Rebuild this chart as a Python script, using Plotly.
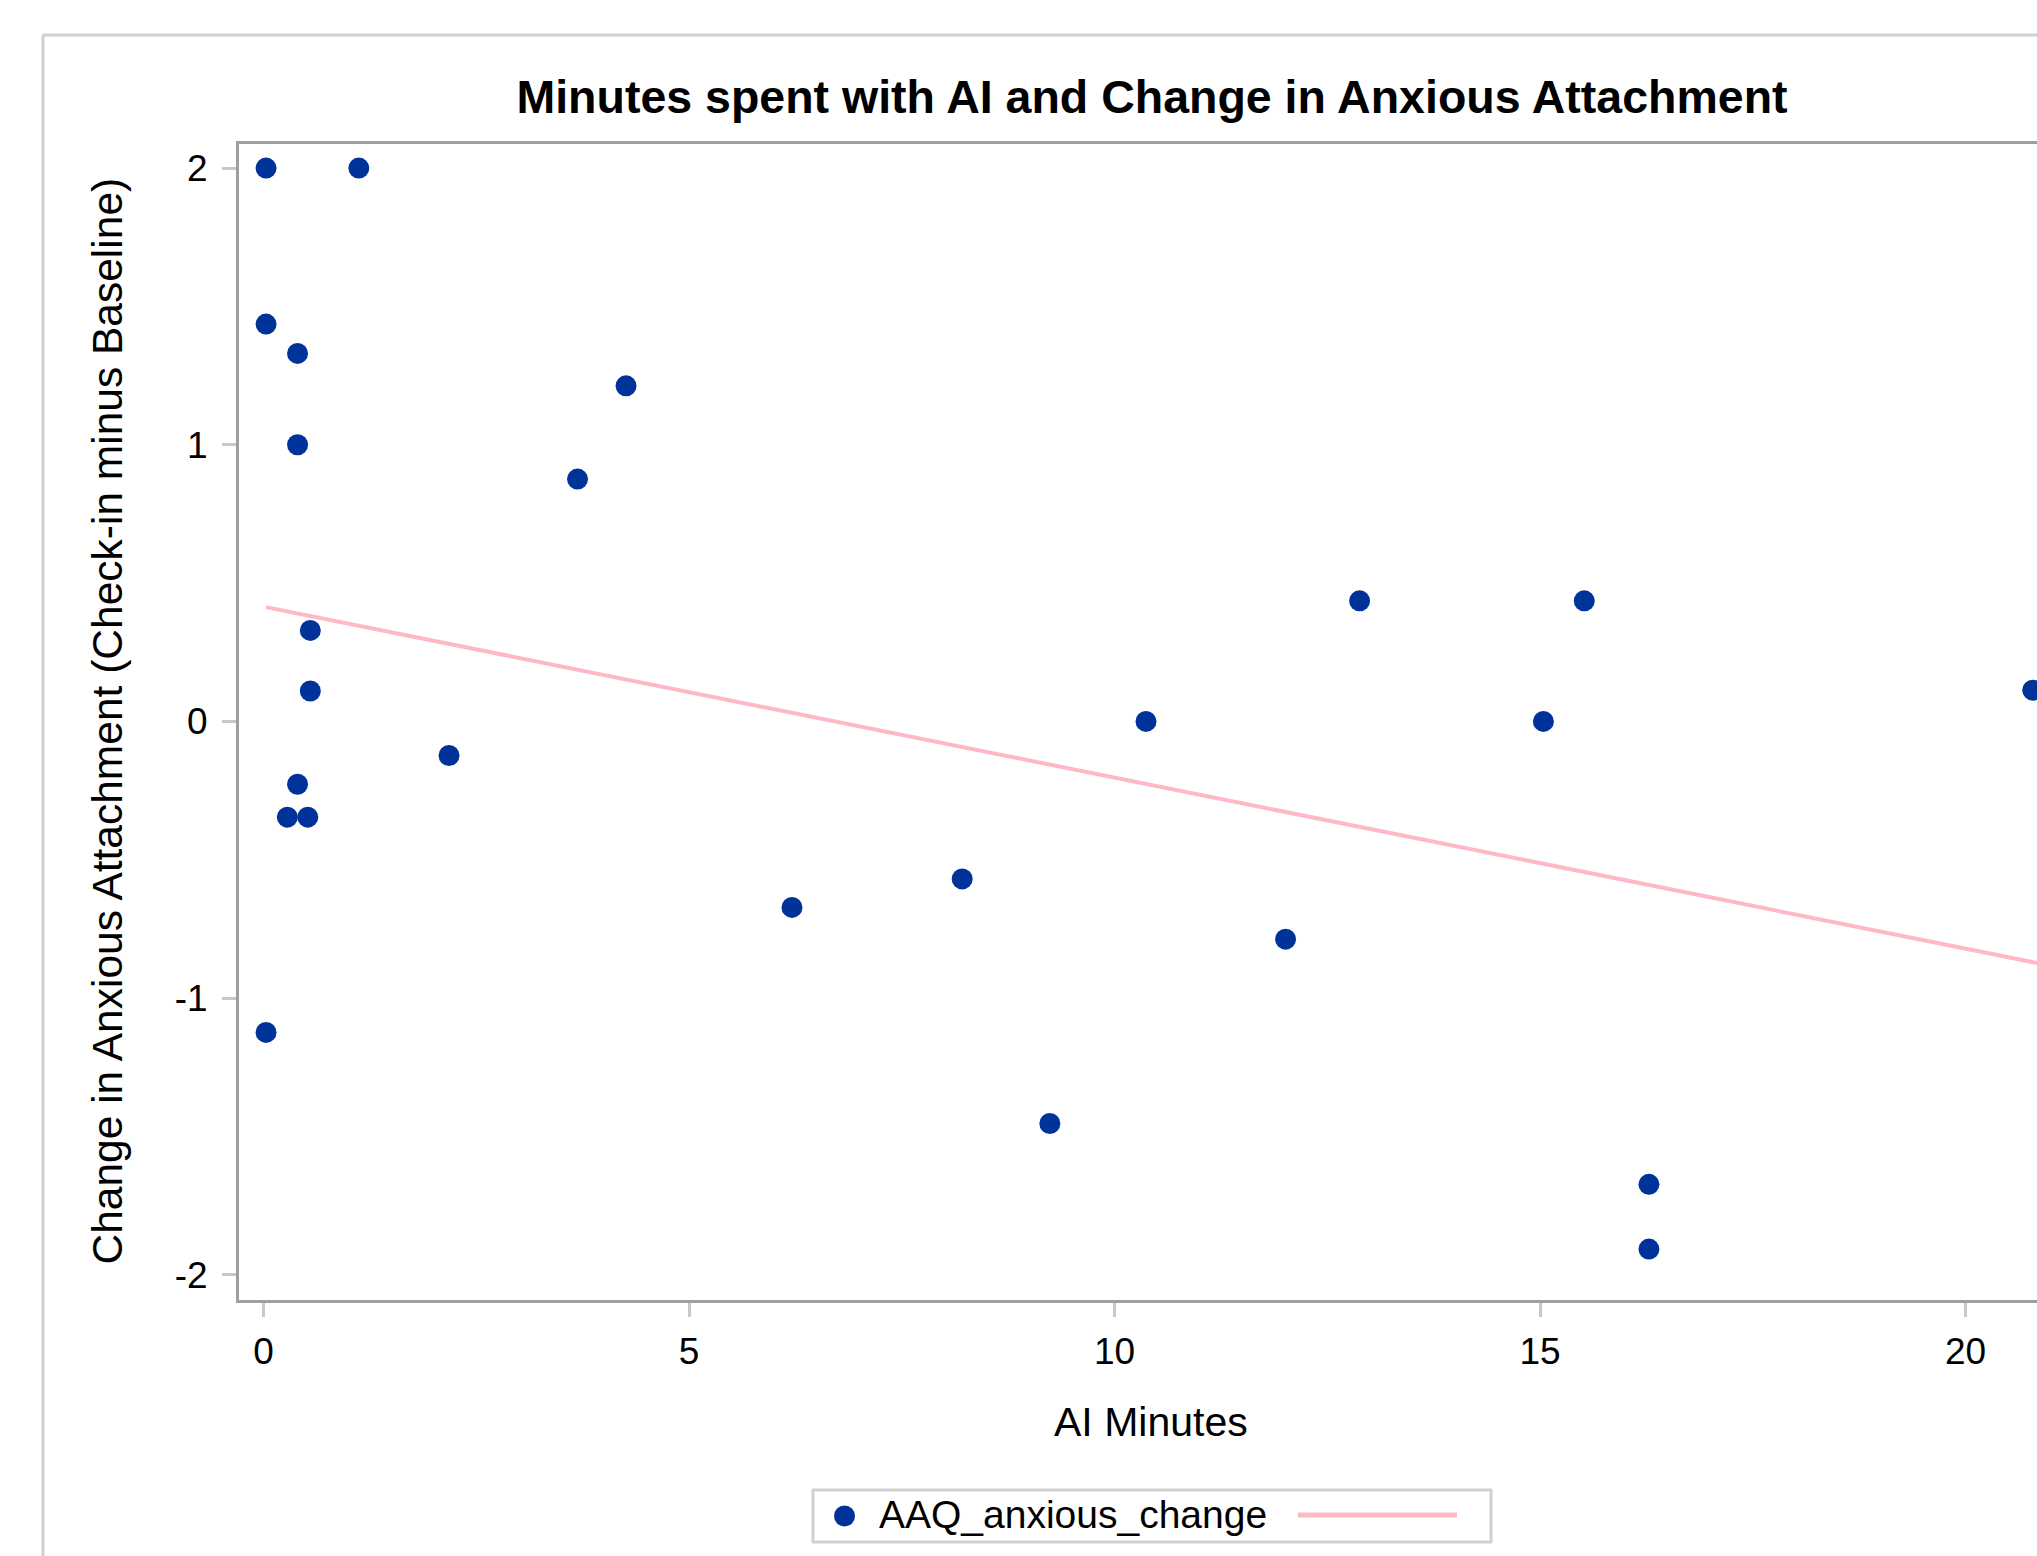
import plotly.graph_objects as go

# ---- data ----
ai_minutes = [0.03, 1.12, 0.03, 0.40, 0.40, 4.26, 3.69, 0.55, 0.55, 0.40, 0.28, 0.52,
              2.18, 0.03, 6.21, 8.21, 9.24, 10.37, 12.01, 12.88, 15.04, 15.52, 16.28,
              16.28, 20.79]
aaq_anxious_change = [2.0, 2.0, 1.436, 1.33, 1.0, 1.213, 0.876, 0.329, 0.110, -0.227,
                      -0.346, -0.346, -0.123, -1.124, -0.672, -0.569, -1.453, 0.0,
                      -0.787, 0.436, 0.0, 0.436, -1.673, -1.907, 0.113]
# regression line
fit_intercept = 0.415
fit_slope = -0.0618

x_ticks = [0, 5, 10, 15, 20]
y_ticks = [-2, -1, 0, 1, 2]
y_tick_text = ["-2", "-1", "0", "1", "2"]

title_text = "Minutes spent with AI and Change in Anxious Attachment"
x_title = "AI Minutes"
y_title = "Change in Anxious Attachment (Check-in minus Baseline)"
legend_label = "AAQ_anxious_change"

# ---- layout geometry (pixels) ----
FW, FH = 2037, 1556
L, R, T, B = 239, 2037, 144, 1300
W, H = R - L, B - T


def px(x):
    return (x - L) / W


def py(y):
    return (B - y) / H


FONT = "Liberation Sans, Arial, sans-serif"
DOT = "#003399"
PINK = "#ffb8c6"
FRAME = "#9ca0a4"
LIGHT = "#d0d0d0"

fit_x = [min(ai_minutes), max(ai_minutes) + 1.5]
fit_y = [fit_intercept + fit_slope * v for v in fit_x]

fig = go.Figure()
fig.add_trace(go.Scatter(
    x=fit_x, y=fit_y, mode="lines",
    line=dict(color=PINK, width=4), showlegend=False, hoverinfo="skip"))
fig.add_trace(go.Scatter(
    x=ai_minutes, y=aaq_anxious_change, mode="markers", name=legend_label,
    marker=dict(color=DOT, size=21, line=dict(width=0)),
    showlegend=False, cliponaxis=True))

axis_common = dict(
    showgrid=False, zeroline=False, showline=True, linecolor=FRAME, linewidth=3,
    ticks="outside", ticklen=14, tickwidth=3, tickcolor="#c8c8c8",
    tickfont=dict(family=FONT, size=37, color="#000000"),
)
fig.update_xaxes(range=[-0.288, 20.84], tickvals=x_ticks, mirror=True,
                 ticklabelstandoff=3, **axis_common)
fig.update_yaxes(range=[-2.091, 2.087], tickvals=y_ticks, ticktext=y_tick_text,
                 mirror=False, ticklabelstandoff=7, **axis_common)

shapes = [
    # outer frame (top and left visible)
    dict(type="line", xref="paper", yref="paper", x0=px(43), y0=py(35), x1=px(2200), y1=py(35),
         line=dict(color=LIGHT, width=3), layer="below"),
    dict(type="line", xref="paper", yref="paper", x0=px(43), y0=py(35), x1=px(43), y1=py(1700),
         line=dict(color=LIGHT, width=3), layer="below"),
    # legend box
    dict(type="rect", xref="paper", yref="paper", x0=px(813), x1=px(1491), y0=py(1542), y1=py(1490),
         line=dict(color=LIGHT, width=3), fillcolor="white"),
    # legend marker
    dict(type="circle", xref="paper", yref="paper", x0=px(834), x1=px(855), y0=py(1526.5), y1=py(1505.5),
         line=dict(width=0), fillcolor=DOT),
    # legend line
    dict(type="line", xref="paper", yref="paper", x0=px(1298), x1=px(1457), y0=py(1515), y1=py(1515),
         line=dict(color=PINK, width=5)),
]

annotations = [
    dict(text=x_title, xref="paper", yref="paper", x=px(1151), y=py(1422), xanchor="center",
         yanchor="middle", showarrow=False, font=dict(family=FONT, size=41, color="#000000")),
    dict(text=y_title, xref="paper", yref="paper", x=px(106.5), y=py(721), xanchor="center",
         yanchor="middle", textangle=-90, showarrow=False,
         font=dict(family=FONT, size=42.5, color="#000000")),
    dict(text=legend_label, xref="paper", yref="paper", x=px(877), y=py(1514), xanchor="left",
         yanchor="middle", showarrow=False, font=dict(family=FONT, size=39, color="#000000")),
]

fig.update_layout(
    width=FW, height=FH,
    margin=dict(l=L, r=FW - R, t=T, b=FH - B, pad=0),
    paper_bgcolor="white", plot_bgcolor="white",
    title=dict(text=title_text, xref="container", yref="container", x=1152 / FW,
               y=1 - 97 / FH, xanchor="center", yanchor="middle",
               font=dict(family=FONT, size=46.5, color="#000000", weight="bold")),
    shapes=shapes, annotations=annotations, showlegend=False,
)

fig.write_html("out.html", config={"displayModeBar": False},
               post_script="document.body.style.margin='0';document.body.style.overflow='hidden';")
